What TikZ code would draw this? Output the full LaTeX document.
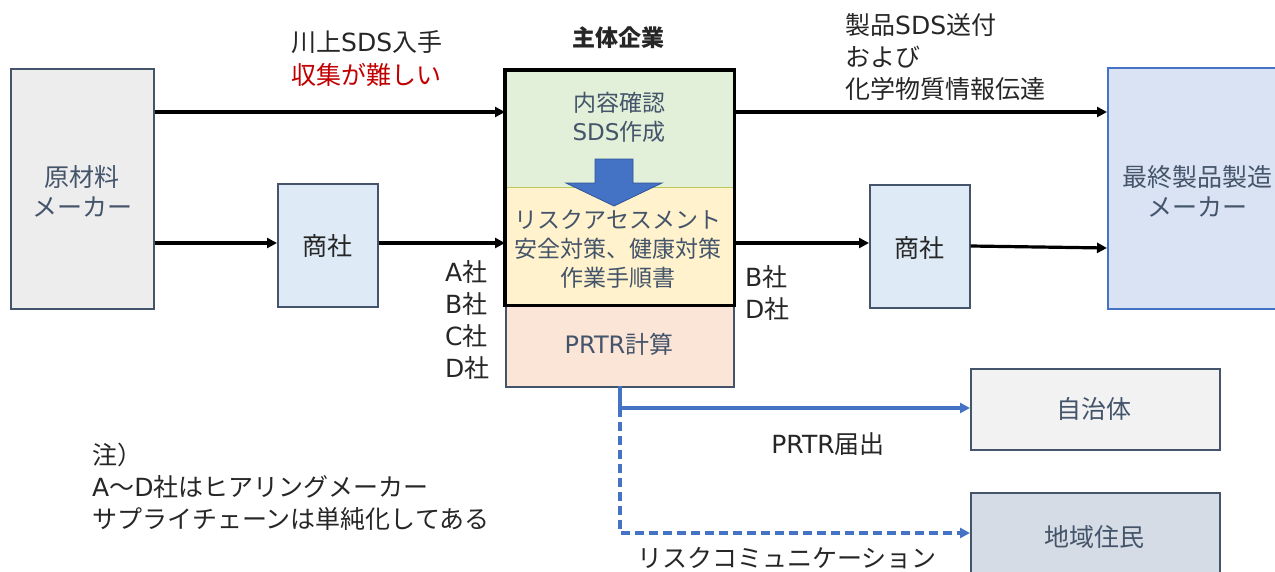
\documentclass[tikz,border=0pt]{standalone}
\usepackage{fontspec}
\setmainfont{Noto Sans CJK JP}
\newfontfamily\latinfont{DejaVu Sans}
\newcommand\latn[1]{{\latinfont #1}}
\usetikzlibrary{arrows.meta}
\definecolor{boxline}{HTML}{44546A}
\definecolor{boxtext}{HTML}{44546A}
\definecolor{rawfill}{HTML}{EDEDED}
\definecolor{tradefill}{HTML}{DEEBF7}
\definecolor{greenfill}{HTML}{E2F0D9}
\definecolor{yellowfill}{HTML}{FFF2CC}
\definecolor{pinkfill}{HTML}{FBE5D6}
\definecolor{finalfill}{HTML}{DAE3F3}
\definecolor{accent}{HTML}{4472C4}
\definecolor{govfill}{HTML}{F2F2F2}
\definecolor{resfill}{HTML}{D6DCE5}
\definecolor{labeltext}{HTML}{262626}
\definecolor{redtext}{HTML}{C00000}
\tikzset{
  txt/.style={font=\fontsize{25}{30}\selectfont, align=center, inner sep=0pt},
  intxt/.style={font=\fontsize{23}{29}\selectfont, align=center, inner sep=0pt, text=boxtext},
  boxnode/.style={draw=boxline, line width=1.6pt, inner sep=0pt, anchor=north west},
  lbl/.style={font=\fontsize{25}{32}\selectfont, text=labeltext, inner sep=0pt},
  flow/.style={line width=3.2pt, black, -{Triangle[length=10pt,width=10pt]}},
  blueflow/.style={line width=3.2pt, accent, -{Triangle[length=10pt,width=10pt]}},
  bluedash/.style={blueflow, dash pattern=on 9pt off 5pt},
}
\begin{document}
\begin{tikzpicture}[x=1pt,y=-1pt]
\useasboundingbox (0,0) rectangle (1275,571);
\clip (0,0) rectangle (1275,571);
% boxes
\node[boxnode, fill=rawfill, minimum width=143pt, minimum height=240pt] (raw) at (10,68) {};
\node[txt, text=boxtext] (rawtxt) at (82,191) {原材料\\メーカー};
\node[boxnode, fill=tradefill, minimum width=100pt, minimum height=123pt] (tr1) at (277,183) {};
\node[txt, text=labeltext] at (327,246) {商社};
\node[boxnode, fill=tradefill, minimum width=100pt, minimum height=123pt] (tr2) at (869,184) {};
\node[txt, text=labeltext] at (919,248) {商社};
\node[boxnode, draw=accent, fill=finalfill, minimum width=190pt, minimum height=241pt] (fin) at (1107,67) {};
\node[txt, text=boxtext] at (1197,191) {最終製品製造\\メーカー};
% main company
\node[boxnode, draw=none, fill=greenfill, minimum width=228pt, minimum height=116pt] (sds) at (505,70) {};
\node[boxnode, draw=none, fill=yellowfill, minimum width=228pt, minimum height=118pt] (ra) at (505,186) {};
\node[boxnode, fill=pinkfill, minimum width=228pt, minimum height=82pt] (prtr) at (505,304) {};
\draw[color={rgb,255:red,190;green,200;blue,90}, line width=1.4pt] (sds.south west) -- (sds.south east);
\draw[line width=3.4pt, black] (sds.north west) rectangle (ra.south east);
\node[intxt] at (619,117) {内容確認\\\latn{SDS}作成};
\draw[fill=accent, draw={rgb,255:red,47;green,85;blue,151}, line width=0.8pt]
  (595,159) -- (633,159) -- (633,183) -- (662,183) -- (614,206) -- (566,183) -- (595,183) -- cycle;
\node[intxt] at (618,249) {リスクアセスメント\\安全対策、健康対策\\作業手順書};
\node[txt, text=boxtext, font=\fontsize{24}{29}\selectfont] at (619,344) {\latn{PRTR}計算};
\node[boxnode, fill=govfill, minimum width=249pt, minimum height=81pt] (gov) at (970,368) {};
\node[txt, text=boxtext] at (1094,409) {自治体};
\node[boxnode, fill=resfill, minimum width=249pt, minimum height=100pt] (res) at (970,492) {};
\node[txt, text=boxtext] at (1094,537) {地域住民};
% flows
\draw[flow] (raw.east |- 0,112) -- (sds.west |- 0,112);
\draw[flow] (raw.east |- 0,243) -- (tr1.west |- 0,243);
\draw[flow] (tr1.east |- 0,243) -- (ra.west |- 0,243);
\draw[flow] (sds.east |- 0,112) -- (fin.west |- 0,112);
\draw[flow] (ra.east |- 0,243) -- (tr2.west |- 0,243);
\draw[flow] (tr2.east |- 0,246) -- (fin.west |- 0,248);
\coordinate (down) at (620,386);
\draw[blueflow] (down) -- (620,408) -- (gov.west |- 0,408);
\draw[bluedash] (620,408) -- (620,533) -- (res.west |- 0,533);
% labels
\node[lbl, anchor=west] at (291,42) {川上\latn{SDS}入手};
\node[lbl, anchor=west, text=redtext] at (291,75) {収集が難しい};
\node[lbl, font=\fontsize{23}{29}\selectfont\bfseries] at (618,38) {主体企業};
\node[lbl, anchor=west, align=left] at (845,57) {製品\latn{SDS}送付\\および\\化学物質情報伝達};
\node[lbl, anchor=west, align=left] at (445,320) {\latn{A}社\\\latn{B}社\\\latn{C}社\\\latn{D}社};
\node[lbl, anchor=west, align=left] at (745,292.5) {\latn{B}社\\\latn{D}社};
\node[lbl] at (828,444) {\latn{PRTR}届出};
\node[lbl] at (787,558) {リスクコミュニケーション};
\node[lbl, anchor=west, align=left] at (92,487) {注）\\\latn{A}〜\latn{D}社はヒアリングメーカー\\サプライチェーンは単純化してある};
\end{tikzpicture}
\end{document}
